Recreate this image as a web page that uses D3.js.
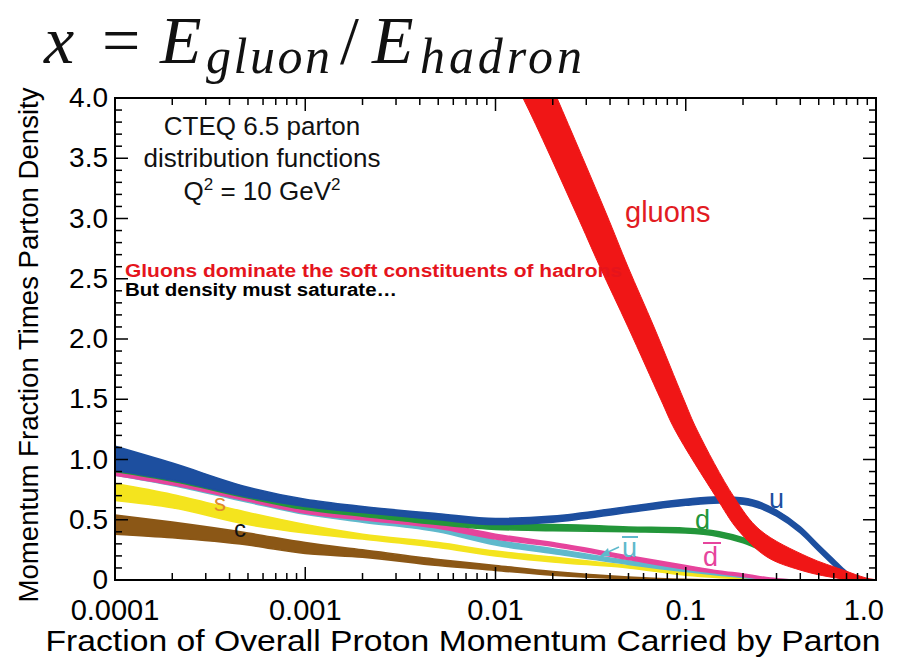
<!DOCTYPE html>
<html><head><meta charset="utf-8">
<script src="https://cdn.jsdelivr.net/npm/d3@7"></script>
<style>html,body{margin:0;padding:0;background:#fff;}svg{display:block;}</style>
</head><body>
<svg id="chart" width="900" height="658"></svg>
<script>
// ---- data ----
const xGrid = [1e-4, 2e-4, 5e-4, 1e-3, 2e-3, 5e-3, 0.01, 0.02, 0.05, 0.1, 0.15, 0.2, 0.3, 0.4, 0.5, 0.6, 0.7, 0.8, 0.9, 1.0];
const uHi   = [1.11,0.97,0.77,0.67,0.61,0.55,0.51,0.53,0.61,0.67,0.69,0.68,0.58,0.44,0.29,0.17,0.07,0.015,0,0];
const uLo   = [0.91,0.83,0.69,0.61,0.56,0.50,0.46,0.48,0.56,0.62,0.64,0.63,0.53,0.39,0.24,0.12,0.035,0,0,0];
const dHi   = [0.95,0.86,0.72,0.62,0.57,0.50,0.46,0.46,0.44,0.43,0.40,0.35,0.23,0.15,0.09,0.05,0.02,0.005,0,0];
const dLo   = [0.90,0.82,0.68,0.585,0.53,0.46,0.42,0.41,0.40,0.39,0.36,0.31,0.19,0.12,0.07,0.035,0.01,0,0,0];
const dbarHi= [0.91,0.83,0.69,0.59,0.54,0.47,0.38,0.31,0.20,0.12,0.075,0.05,0.01,0,0,0,0,0,0,0];
const dbarLo= [0.87,0.79,0.655,0.555,0.50,0.43,0.34,0.28,0.17,0.09,0.055,0.03,0,0,0,0,0,0,0,0];
const ubarHi= [0.89,0.81,0.665,0.565,0.505,0.43,0.33,0.26,0.16,0.10,0.06,0.035,0.005,0,0,0,0,0,0,0];
const ubarLo= [0.87,0.785,0.645,0.545,0.48,0.40,0.29,0.22,0.13,0.07,0.04,0.02,0,0,0,0,0,0,0,0];
const sHi   = [0.80,0.71,0.56,0.46,0.38,0.31,0.24,0.19,0.12,0.07,0.04,0.02,0.005,0,0,0,0,0,0,0];
const sLo   = [0.66,0.60,0.46,0.39,0.34,0.27,0.20,0.15,0.10,0.04,0.02,0.01,0,0,0,0,0,0,0,0];
const cHi   = [0.54,0.48,0.39,0.31,0.25,0.17,0.12,0.07,0.025,0.005,0,0,0,0,0,0,0,0,0,0];
const cLo   = [0.38,0.35,0.29,0.22,0.19,0.12,0.08,0.04,0.01,0,0,0,0,0,0,0,0,0,0,0];
// gluon band edges (x, value)
const gluonUpperX = [0.0100,0.01394,0.02649,0.03542,0.04972,0.07413,0.0878,0.1442,0.1882,0.2674,0.3986,0.573,0.7755];
const gluonUpperV = [4.42,4.0,3.046,2.598,2.10,1.494,1.245,0.689,0.415,0.191,0.083,0.025,0.0];
const gluonLowerX = [0.0159,0.02105,0.03809,0.04972,0.06808,0.0979,0.1146,0.1793,0.2456,0.4392,0.6707,0.8859,1.0];
const gluonLowerV = [4.44,4.0,3.046,2.598,2.10,1.494,1.245,0.689,0.415,0.191,0.083,0.017,0.0];

const xTickValues = [1e-4, 1e-3, 1e-2, 1e-1, 1];
const xTickLabels = ["0.0001","0.001","0.01","0.1","1.0"];
const yTickValues = [0,0.5,1.0,1.5,2.0,2.5,3.0,3.5,4.0];
const yTickLabels = ["0","0.5","1.0","1.5","2.0","2.5","3.0","3.5","4.0"];

// ---- layout ----
const L = 115, R = 876, T = 98, B = 580;
const svg = d3.select("#chart");
const x = d3.scaleLog().domain([1e-4, 1]).range([L, R]);
const y = d3.scaleLinear().domain([0, 4]).range([B, T]);

svg.append("defs").append("clipPath").attr("id","plotclip")
  .append("rect").attr("x",L).attr("y",T).attr("width",R-L).attr("height",B-T);

const plot = svg.append("g").attr("clip-path","url(#plotclip)");

const series = [
  {hi:cHi, lo:cLo, color:"#8b5716"},
  {hi:sHi, lo:sLo, color:"#f4e41e"},
  {hi:ubarHi, lo:ubarLo, color:"#5fb9cc"},
  {hi:dbarHi, lo:dbarLo, color:"#e6449c"},
  {hi:dHi, lo:dLo, color:"#23963a"},
  {hi:uHi, lo:uLo, color:"#1d4f9f"}
];
const area = d3.area()
  .x(d => x(d.x)).y0(d => y(d.lo)).y1(d => y(d.hi))
  .curve(d3.curveMonotoneX);
series.forEach(s => {
  const pts = xGrid.map((xv,i) => ({x:xv, hi:s.hi[i], lo:s.lo[i]}));
  plot.append("path").attr("d", area(pts)).attr("fill", s.color)
    .attr("stroke", s.color).attr("stroke-width", 1.6);
});

const gpts = gluonUpperX.map((xv,i)=>[xv,gluonUpperV[i]])
  .concat(gluonLowerX.map((xv,i)=>[xv,gluonLowerV[i]]).reverse());
const gline = d3.line().x(d=>x(d[0])).y(d=>y(d[1])).curve(d3.curveCatmullRomClosed.alpha(0.5));

// ---- frame & ticks ----
svg.append("rect").attr("x",L).attr("y",T).attr("width",R-L).attr("height",B-T)
  .attr("fill","none").attr("stroke","#000").attr("stroke-width",2);

const ticks = svg.append("g").attr("stroke","#000").attr("stroke-width",1.5);
d3.range(0, 41).forEach(i => {
  const yy = y(i/10);
  const len = (i % 5 === 0) ? 13 : 7;
  ticks.append("line").attr("x1",L).attr("x2",L+len).attr("y1",yy).attr("y2",yy);
  ticks.append("line").attr("x1",R).attr("x2",R-len).attr("y1",yy).attr("y2",yy);
});
for (let e=-4; e<0; e++) {
  for (let m=1; m<=9; m++) {
    const xx = x(m*Math.pow(10,e));
    const len = m===1 ? 13 : 7;
    ticks.append("line").attr("x1",xx).attr("x2",xx).attr("y1",B).attr("y2",B-len);
    ticks.append("line").attr("x1",xx).attr("x2",xx).attr("y1",T).attr("y2",T+len);
  }
}

const font = "'Liberation Sans', Arial, Helvetica, sans-serif";
svg.append("g").selectAll("text").data(yTickValues).join("text")
  .attr("x", 108).attr("y", d => y(d)+9)
  .attr("text-anchor","end").attr("font-family",font).attr("font-size",28)
  .text((d,i)=>yTickLabels[i]);
svg.append("g").selectAll("text").data(xTickValues).join("text")
  .attr("x", (d,i) => i===4 ? 884 : x(d)).attr("y", 620)
  .attr("text-anchor",(d,i)=> i===4 ? "end" : "middle").attr("font-family",font).attr("font-size",29)
  .text((d,i)=>xTickLabels[i]);

svg.append("text").attr("x",463).attr("y",651).attr("text-anchor","middle")
  .attr("font-family",font).attr("font-size",29).attr("textLength",835).attr("lengthAdjust","spacingAndGlyphs")
  .text("Fraction of Overall Proton Momentum Carried by Parton");
svg.append("text").attr("transform","translate(38,345) rotate(-90)").attr("text-anchor","middle")
  .attr("font-family",font).attr("font-size",27).attr("textLength",515).attr("lengthAdjust","spacingAndGlyphs")
  .text("Momentum Fraction Times Parton Density");

// info box
const info = svg.append("g").attr("font-family",font).attr("font-size",26).attr("text-anchor","middle").attr("fill","#111");
info.append("text").attr("x",262).attr("y",135).text("CTEQ 6.5 parton");
info.append("text").attr("x",262).attr("y",167).text("distribution functions");
const q = info.append("text").attr("x",262).attr("y",200);
q.append("tspan").text("Q");
q.append("tspan").attr("font-size",17).attr("dy",-10).text("2");
q.append("tspan").attr("dy",10).text("  = 10 GeV");
q.append("tspan").attr("font-size",17).attr("dy",-10).text("2");

// annotations
svg.append("text").attr("x",125).attr("y",277).attr("font-family",font).attr("font-weight","bold")
  .attr("font-size",18).attr("fill","#e5141c").attr("textLength",497).attr("lengthAdjust","spacingAndGlyphs")
  .text("Gluons dominate the soft constituents of hadrons");
svg.append("text").attr("x",125).attr("y",296).attr("font-family",font).attr("font-weight","bold")
  .attr("font-size",18).attr("fill","#000").attr("textLength",272).attr("lengthAdjust","spacingAndGlyphs")
  .text("But density must saturate…");

// gluon band on top
plot.append("path").attr("d", gline(gpts)).attr("fill","#f01616").attr("stroke","#f01616").attr("stroke-width",1);

// curve labels
const lab = svg.append("g").attr("font-family",font).attr("font-size",27);
lab.append("text").attr("x",625).attr("y",222).attr("fill","#e21b22").attr("font-size",29).text("gluons");
lab.append("text").attr("x",769).attr("y",508).attr("fill","#1d4f9f").text("u");
lab.append("text").attr("x",695).attr("y",529).attr("fill","#23963a").text("d");
lab.append("text").attr("x",703).attr("y",566).attr("fill","#e6449c").text("d");
lab.append("line").attr("x1",703).attr("x2",721).attr("y1",543).attr("y2",543).attr("stroke","#e6449c").attr("stroke-width",2);
lab.append("text").attr("x",622).attr("y",557).attr("fill","#5fb9cc").text("u");
lab.append("line").attr("x1",622).attr("x2",638).attr("y1",537).attr("y2",537).attr("stroke","#5fb9cc").attr("stroke-width",2);
lab.append("line").attr("x1",619).attr("x2",606).attr("y1",547).attr("y2",553).attr("stroke","#5fb9cc").attr("stroke-width",1.5);
lab.append("path").attr("d","M600,556 L608,548 L610,556 Z").attr("fill","#5fb9cc");
lab.append("text").attr("x",214).attr("y",511).attr("fill","#e08a2c").attr("font-size",24).text("s");
lab.append("text").attr("x",234).attr("y",537).attr("fill","#111").attr("font-size",24).text("c");

// title
const tf = "'Liberation Serif', 'Times New Roman', serif";
const title = svg.append("g").attr("font-family",tf).attr("fill","#111");
const piece = (txt, x0, yb, fs, it, w) => {
  const t = title.append("text").attr("x",x0).attr("y",yb)
    .attr("font-size",fs).attr("font-style", it ? "italic" : "normal").text(txt);
  if (w) t.attr("textLength", w).attr("lengthAdjust","spacing");
  return t;
};
piece("x", 44, 63, 68, true);
piece("=", 102, 63, 68, false);
piece("E", 160, 63, 68, true);
piece("gluon", 206, 73, 50, true, 124);
piece("/", 340, 63, 68, false);
piece("E", 372, 63, 68, true);
piece("hadron", 420, 73, 50, true, 162);
</script>
</body></html>
